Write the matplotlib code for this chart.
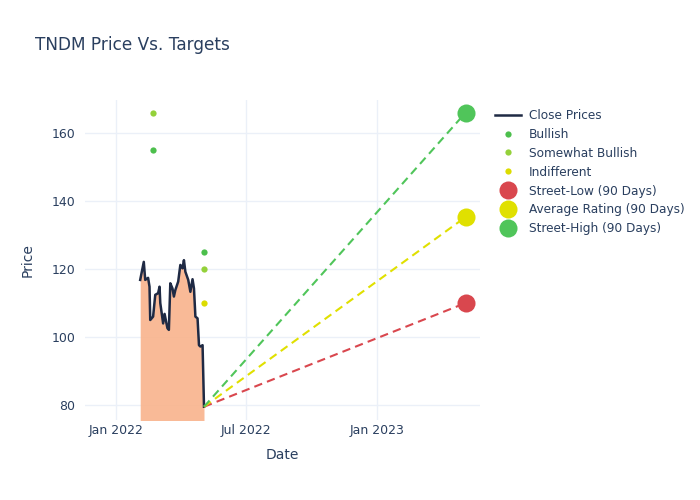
import matplotlib
matplotlib.use("Agg")
import matplotlib.pyplot as plt
import matplotlib.dates as mdates
import pandas as pd

# ---- data ----
price_dates = ["2022-02-04", "2022-02-09", "2022-02-11", "2022-02-15", "2022-02-17",
               "2022-02-18", "2022-02-22", "2022-02-25", "2022-03-01", "2022-03-03",
               "2022-03-04", "2022-03-08", "2022-03-10", "2022-03-14", "2022-03-16",
               "2022-03-18", "2022-03-21", "2022-03-23", "2022-03-25", "2022-03-29",
               "2022-04-01", "2022-04-04", "2022-04-06", "2022-04-08", "2022-04-12",
               "2022-04-15", "2022-04-18", "2022-04-20", "2022-04-22", "2022-04-25",
               "2022-04-27", "2022-04-29", "2022-05-02", "2022-05-04"]
close_prices = [116.8, 122.1, 116.8, 117.4, 114.8, 105.0, 106.0, 112.4, 112.9, 114.8,
                110.0, 104.0, 106.8, 102.6, 102.1, 115.8, 114.3, 111.9, 113.8, 116.3,
                121.2, 120.2, 122.6, 119.2, 116.8, 113.3, 117.0, 114.3, 106.0, 105.5,
                97.6, 97.2, 97.6, 79.5]

bullish_dates = ["2022-02-22", "2022-05-04"]
bullish_values = [155, 125]
somewhat_dates = ["2022-02-22", "2022-05-04"]
somewhat_values = [166, 120]
indifferent_dates = ["2022-05-04"]
indifferent_values = [110]

target_date = "2023-05-04"
street_low = 110
average_rating = 135.3
street_high = 166

# ---- styling ----
TXT = "#2a3f5f"
GRID = "#ebf0f8"
C_LINE = "#1f2a44"
C_FILL = "#f9b38c"
C_BULL = "#4cbf4c"
C_SWB = "#94d13a"
C_IND = "#dcdc00"
C_LOW = "#d9474e"
C_AVG = "#e0e000"
C_HIGH = "#50c55a"

fig = plt.figure(figsize=(7, 5), dpi=100)
ax = fig.add_axes([85 / 700, 80 / 500, 395 / 700, 320 / 500])

pdates = pd.to_datetime(price_dates)
ax.fill_between(pdates, close_prices, 0, color=C_FILL, alpha=0.9, linewidth=0, zorder=2)
ax.plot(pdates, close_prices, color=C_LINE, lw=1.8, zorder=3, label="Close Prices")

last_d = pdates[-1]
last_p = close_prices[-1]
td = pd.to_datetime(target_date)
for val, col in [(street_low, C_LOW), (average_rating, C_AVG), (street_high, C_HIGH)]:
    ax.plot([last_d, td], [last_p, val], color=col, lw=1.5, ls=(0, (4, 2.5)), zorder=3)

ax.plot(pd.to_datetime(bullish_dates), bullish_values, "o", color=C_BULL, ms=4.5,
        mec="none", zorder=4, label="Bullish")
ax.plot(pd.to_datetime(somewhat_dates), somewhat_values, "o", color=C_SWB, ms=4.5,
        mec="none", zorder=4, label="Somewhat Bullish")
ax.plot(pd.to_datetime(indifferent_dates), indifferent_values, "o", color=C_IND, ms=4.5,
        mec="none", zorder=4, label="Indifferent")
ax.plot([td], [street_low], "o", color=C_LOW, ms=13, mec="none", zorder=5,
        label="Street-Low (90 Days)")
ax.plot([td], [average_rating], "o", color=C_AVG, ms=13, mec="none", zorder=5,
        label="Average Rating (90 Days)")
ax.plot([td], [street_high], "o", color=C_HIGH, ms=13, mec="none", zorder=5,
        label="Street-High (90 Days)")

ax.set_xlim(pd.Timestamp("2021-11-19"), pd.Timestamp("2023-05-24"))
ax.set_ylim(75.6, 169.7)

ax.set_yticks([80, 100, 120, 140, 160])
ax.xaxis.set_major_locator(mdates.MonthLocator(bymonth=[1, 7]))
ax.xaxis.set_major_formatter(mdates.DateFormatter("%b %Y"))

for s in ax.spines.values():
    s.set_visible(False)
ax.grid(True, color=GRID, lw=1, zorder=0)
ax.set_axisbelow(True)
ax.tick_params(axis="both", length=0, colors=TXT, labelsize=9)
ax.tick_params(axis="y", pad=7)
ax.tick_params(axis="x", pad=3)

ax.set_xlabel("Date", color=TXT, fontsize=10, labelpad=8)
ax.set_ylabel("Price", color=TXT, fontsize=10, labelpad=12)

fig.text(35 / 700, 1 - 45 / 500, "TNDM Price Vs. Targets", color=TXT, fontsize=12.2,
         va="center", ha="left")

leg = ax.legend(loc="upper left", bbox_to_anchor=(490 / 700, 1 - 104 / 500),
                bbox_transform=fig.transFigure, frameon=False, fontsize=8.7,
                labelcolor=TXT, handlelength=2.2, handletextpad=0.6,
                labelspacing=0.49, borderaxespad=0)

fig.savefig("out.png", dpi=100)
